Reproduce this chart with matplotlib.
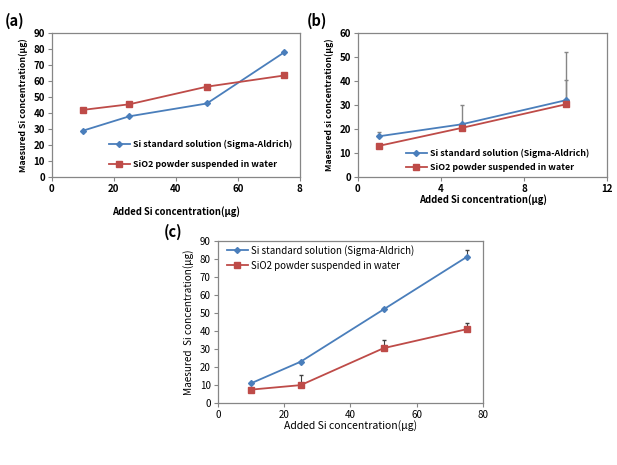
import matplotlib
matplotlib.use("Agg")
import matplotlib.pyplot as plt
from matplotlib.lines import Line2D

# panel (a)
a_x = [10, 25, 50, 75]
a_std = [29, 38, 46, 78]
a_pow = [42, 45.5, 56.5, 63.5]

# panel (b)
b_x = [1, 5, 10]
b_std = [17, 22, 32]
b_std_err = [2, 8, 20]
b_pow = [13, 20.5, 30.3]
b_pow_err = [0, 0, 10]

# panel (c)
c_x = [10, 25, 50, 75]
c_std = [11, 23, 52, 81]
c_std_err = [0, 0, 1, 4]
c_pow = [7.5, 10, 30.5, 41]
c_pow_err = [0, 5.5, 4.5, 3.5]

lab_std = "Si standard solution (Sigma-Aldrich)"
lab_pow = "SiO2 powder suspended in water"
blue = "#4a7ebb"
red = "#be4b48"
grey = "#868686"

plt.rcParams['font.family'] = ['Noto Sans CJK KR', 'DejaVu Sans']
fig = plt.figure(figsize=(6.17, 4.65), dpi=100)

handles = [Line2D([], [], color=blue, marker='D', ms=3, lw=1.3),
           Line2D([], [], color=red, marker='s', ms=4, lw=1.3)]
leg_font = {'size': 6.4, 'weight': 'bold'}


def style(ax, xlim, xticks, xticklabels, ylim, yticks, ylabel, bold=True, ysize=6.3):
    w = 'bold' if bold else 'normal'
    ax.set_xlim(*xlim)
    ax.set_ylim(*ylim)
    ax.set_xticks(xticks)
    ax.set_xticklabels(xticklabels, fontsize=7, fontweight=w)
    ax.set_yticks(yticks)
    ax.set_yticklabels([str(v) for v in yticks], fontsize=7, fontweight=w)
    ax.set_ylabel(ylabel, fontsize=ysize, fontweight=w, labelpad=4)
    for s in ax.spines.values():
        s.set_color(grey)
        s.set_linewidth(0.9)
    ax.tick_params(length=3, width=0.8, color=grey, pad=2)


# (a)
ax = fig.add_axes([0.084, 0.619, 0.402, 0.310])
ax.plot(a_x, a_std, color=blue, marker='D', ms=3, lw=1.3)
ax.plot(a_x, a_pow, color=red, marker='s', ms=4, lw=1.3)
style(ax, (0, 80), [0, 20, 40, 60, 80], ['0', '20', '40', '60', '8'],
      (0, 90), list(range(0, 91, 10)), "Maesured Si concentration(μg)")
ax.set_xlabel("Added Si concentration(μg)", fontsize=6.8, fontweight='bold', labelpad=9)
ax.legend(handles, [lab_std, lab_pow], loc='lower right', bbox_to_anchor=(1.0, 0.0),
          frameon=False, prop=leg_font, handlelength=2.4,
          labelspacing=1.2, handletextpad=0.3)
fig.text(0.008, 0.945, "(a)", fontsize=10.5, fontweight='bold')

# (b)
ax = fig.add_axes([0.580, 0.619, 0.404, 0.310])
ax.errorbar(b_x, b_std, yerr=[[0] * 3, b_std_err], color=blue, marker='D', ms=3, lw=1.3,
            ecolor=grey, elinewidth=1, capsize=1.5)
ax.errorbar(b_x, b_pow, yerr=[[0] * 3, b_pow_err], color=red, marker='s', ms=4, lw=1.3,
            ecolor=grey, elinewidth=1, capsize=1.5)
style(ax, (0, 12), [0, 4, 8, 12], ['0', '4', '8', '12'],
      (0, 60), list(range(0, 61, 10)), "Maesured si concentration(μg)")
ax.set_xlabel("Added Si concentration(μg)", fontsize=6.8, fontweight='bold', labelpad=0)
ax.legend(handles, [lab_std, lab_pow], loc='lower left', bbox_to_anchor=(0.16, -0.02),
          frameon=False, prop=leg_font, handlelength=2.4,
          labelspacing=0.6, handletextpad=0.3)
fig.text(0.497, 0.945, "(b)", fontsize=10.5, fontweight='bold')

# (c)
ax = fig.add_axes([0.353, 0.133, 0.430, 0.349])
ax.errorbar(c_x, c_std, yerr=[[0] * 4, c_std_err], color=blue, marker='D', ms=3, lw=1.3,
            ecolor='#404040', elinewidth=0.8, capsize=1.5)
ax.errorbar(c_x, c_pow, yerr=[[0] * 4, c_pow_err], color=red, marker='s', ms=4, lw=1.3,
            ecolor='#404040', elinewidth=0.8, capsize=1.5)
style(ax, (0, 80), [0, 20, 40, 60, 80], ['0', '20', '40', '60', '80'],
      (0, 90), list(range(0, 91, 10)), "Maesured  Si concentration(μg)", bold=False, ysize=7.2)
ax.set_xlabel("Added Si concentration(μg)", fontsize=7.5, labelpad=0)
ax.legend(handles, [lab_std, lab_pow], loc='upper left', bbox_to_anchor=(0.0, 1.03),
          frameon=False, prop={'size': 7}, handlelength=2.2, labelspacing=0.5,
          handletextpad=0.3)
fig.text(0.265, 0.49, "(c)", fontsize=10.5, fontweight='bold')

fig.savefig("out.png", dpi=100)
